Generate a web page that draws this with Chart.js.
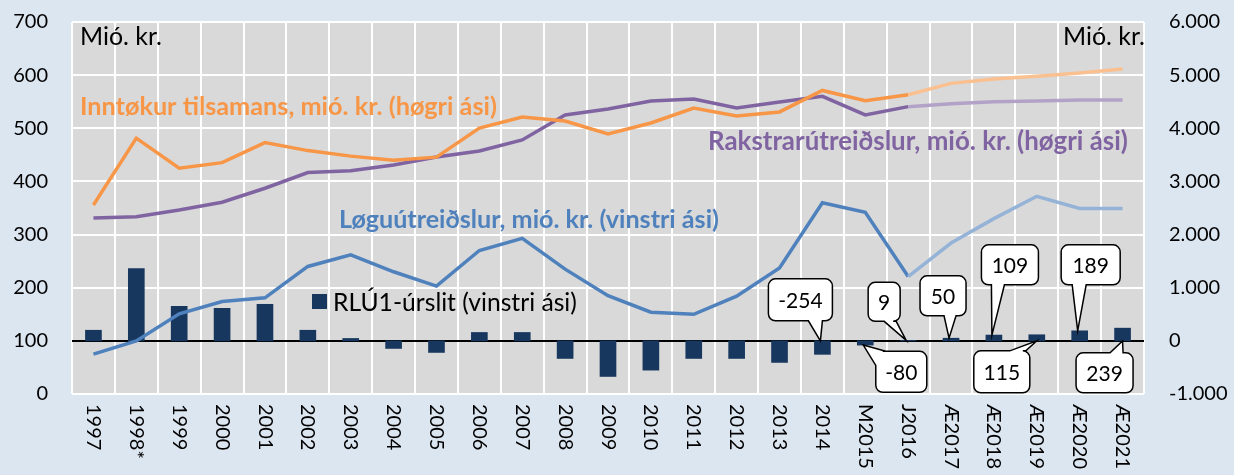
<!DOCTYPE html>
<html>
<head>
<meta charset="utf-8">
<script src="https://cdn.jsdelivr.net/npm/chart.js@4.4.1/dist/chart.umd.min.js"></script>
<style>
  html, body { margin: 0; padding: 0; background: #DCE6F1; }
  #wrap { width: 1234px; height: 475px; }
</style>
</head>
<body>
<div id="wrap"><canvas id="chart"></canvas></div>
<script>
// categories
const years = ['1997', '1998*', '1999', '2000', '2001', '2002', '2003', '2004', '2005', '2006',
  '2007', '2008', '2009', '2010', '2011', '2012', '2013', '2014', 'M2015', 'J2016',
  'Æ2017', 'Æ2018', 'Æ2019', 'Æ2020', 'Æ2021'];

// RLÚ1-úrslit (mió. kr.)
const rlu = [200, 1360, 650, 612, 688, 200, 45, -143, -218, 158,
  158, -331, -670, -551, -331, -331, -406, -254, -80, 9,
  50, 109, 115, 189, 239];

// Løguútreiðslur (vinstri ási)
const loguutreidslur = [75, 100, 151, 174, 181, 240, 262, 230, 203, 270,
  293, 235, 185, 154, 150, 184, 237, 360, 342, 221,
  284, 330, 372, 349, 349];

// Inntøkur tilsamans (høgri ási)
const inntokur = [2557, 3815, 3250, 3354, 3730, 3580, 3476, 3400, 3457, 4003,
  4213, 4137, 3893, 4100, 4382, 4232, 4308, 4712, 4518, 4630,
  4845, 4928, 4980, 5040, 5117];

// Rakstrarútreiðslur (høgri ási)
const rakstur = [2310, 2337, 2463, 2608, 2872, 3166, 3203, 3310, 3460, 3573,
  3780, 4250, 4362, 4513, 4552, 4382, 4495, 4602, 4251, 4407,
  4460, 4500, 4515, 4534, 4534];

const leftTicks = [0, 100, 200, 300, 400, 500, 600, 700];
const rightTicks = [-1000, 0, 1000, 2000, 3000, 4000, 5000, 6000];

const FORECAST_FROM = years.indexOf('J2016');
const FONT = '"Lato", "Open Sans", sans-serif';

function thousands(v) {
  return String(v).replace(/\B(?=(\d{3})+(?!\d))/g, '.');
}

function seg(dark, light) {
  return { borderColor: c => (c.p0DataIndex >= FORECAST_FROM ? light : dark) };
}

// fixed axis widths, no extra label padding above/below the plot
function fixWidth(w) {
  return s => {
    s.width = w;
    s.paddingTop = 0;
    s.paddingBottom = 0;
  };
}

// callout boxes for the last bars: offset of box centre from bar, box size, tail base
const callouts = [
  { i: 17, dx: -22, dy: -41, w: 64, h: 42, tail: 'bottom', t0: 40, t1: 54, tip: 'zero' },
  { i: 18, dx: 36, dy: 31, w: 51, h: 41, tail: 'topleft', tip: 'end' },
  { i: 19, dx: -24, dy: -39, w: 32, h: 39, tail: 'bottom', t0: 16, t1: 28, tip: 'end' },
  { i: 20, dx: -8, dy: -45, w: 46, h: 40, tail: 'bottom', t0: 24, t1: 36, tip: 'end' },
  { i: 21, dx: 16, dy: -76, w: 57, h: 40, tail: 'bottom', t0: 10, t1: 23, tip: 'end' },
  { i: 22, dx: -35, dy: 31, w: 56, h: 42, tail: 'top', t0: 36, t1: 52, tip: 'zero' },
  { i: 23, dx: 11, dy: -76, w: 59, h: 40, tail: 'bottom', t0: 11, t1: 25, tip: 'end' },
  { i: 24, dx: -18, dy: 32, w: 57, h: 40, tail: 'top', t0: 34, t1: 47, tip: 'zero' }
];

const texts = [
  { s: 'Mió. kr.', x: 80, y: 37, w: 82, c: '#000', b: false },
  { s: 'Mió. kr.', x: 1063, y: 37, w: 82, c: '#000', b: false },
  { s: 'Inntøkur tilsamans, mió. kr. (høgri ási)', x: 80, y: 107, w: 417, c: '#F79646', b: true },
  { s: 'Rakstrarútreiðslur, mió. kr. (høgri ási)', x: 708, y: 142, w: 420, c: '#8064A2', b: true },
  { s: 'Løguútreiðslur, mió. kr. (vinstri ási)', x: 339, y: 220, w: 380, c: '#4F81BD', b: true },
  { s: 'RLÚ1-úrslit (vinstri ási)', x: 333, y: 303, w: 244, c: '#000', b: false }
];

const decor = {
  id: 'decor',
  beforeDraw(chart) {
    const { ctx, chartArea: a } = chart;
    ctx.save();
    ctx.fillStyle = '#DCE6F1';
    ctx.fillRect(0, 0, chart.width, chart.height);
    ctx.fillStyle = '#D9D9D9';
    ctx.fillRect(a.left, a.top, a.right - a.left, a.bottom - a.top);
    ctx.restore();
  },
  afterDraw(chart) {
    const { ctx } = chart;
    const xs = chart.scales.x, y1 = chart.scales.y1;
    ctx.save();
    // x labels, rotated clockwise
    ctx.fillStyle = '#000';
    ctx.font = '20px ' + FONT;
    ctx.textAlign = 'left';
    ctx.textBaseline = 'middle';
    years.forEach((lab, i) => {
      ctx.save();
      ctx.translate(xs.getPixelForTick(i), 404);
      ctx.rotate(Math.PI / 2);
      ctx.fillText(lab, 0, 0);
      ctx.restore();
    });

    // free texts
    texts.forEach(t => {
      const weight = t.b ? 'bold ' : '';
      ctx.font = weight + '20px ' + FONT;
      const size = 20 * t.w / ctx.measureText(t.s).width;
      ctx.font = weight + size.toFixed(2) + 'px ' + FONT;
      ctx.fillStyle = t.c;
      ctx.textAlign = 'left';
      ctx.textBaseline = 'middle';
      ctx.fillText(t.s, t.x, t.y);
    });
    // legend square
    ctx.fillStyle = '#17375E';
    ctx.fillRect(312, 294, 15, 15);

    // callouts
    const zero = y1.getPixelForValue(0);
    ctx.lineWidth = 1.5;
    ctx.strokeStyle = '#000';
    callouts.forEach(co => {
      const bx = xs.getPixelForValue(co.i);
      const v = rlu[co.i];
      const tipY = co.tip === 'zero' ? zero : y1.getPixelForValue(v);
      const tipX = co.tip === 'zero' ? bx + (co.tail === 'top' ? 0 : -2) : bx - 2;
      const cx = bx + co.dx, cy = zero + co.dy;
      const L = cx - co.w / 2, T = cy - co.h / 2, R = L + co.w, B = T + co.h, r = 7;
      ctx.beginPath();
      ctx.moveTo(L + r, T);
      if (co.tail === 'top') {
        ctx.lineTo(L + co.t0, T); ctx.lineTo(tipX, tipY); ctx.lineTo(L + co.t1, T);
      }
      ctx.lineTo(R - r, T);
      ctx.arcTo(R, T, R, T + r, r);
      ctx.lineTo(R, B - r);
      ctx.arcTo(R, B, R - r, B, r);
      if (co.tail === 'bottom') {
        ctx.lineTo(L + co.t1, B); ctx.lineTo(tipX, tipY); ctx.lineTo(L + co.t0, B);
      }
      ctx.lineTo(L + r, B);
      ctx.arcTo(L, B, L, B - r, r);
      if (co.tail === 'topleft') {
        ctx.lineTo(L, T + 14); ctx.lineTo(tipX, tipY); ctx.lineTo(L + 10, T);
      } else {
        ctx.lineTo(L, T + r);
        ctx.arcTo(L, T, L + r, T, r);
      }
      ctx.closePath();
      ctx.fillStyle = '#fff';
      ctx.fill();
      ctx.stroke();
      ctx.fillStyle = '#000';
      ctx.font = '21px ' + FONT;
      ctx.textAlign = 'center';
      ctx.textBaseline = 'middle';
      ctx.fillText(String(v), cx, cy + 1);
    });
    ctx.restore();
  }
};

new Chart(document.getElementById('chart'), {
  type: 'bar',
  data: {
    labels: years,
    datasets: [
      {
        type: 'line', label: 'Inntøkur tilsamans', data: inntokur, yAxisID: 'y1',
        borderColor: '#F79646', borderWidth: 3.5, pointRadius: 0, order: 1,
        segment: seg('#F79646', '#FAC090')
      },
      {
        type: 'line', label: 'Rakstrarútreiðslur', data: rakstur, yAxisID: 'y1',
        borderColor: '#8064A2', borderWidth: 3.5, pointRadius: 0, order: 2,
        segment: seg('#8064A2', '#B3A2C7')
      },
      {
        type: 'line', label: 'Løguútreiðslur', data: loguutreidslur, yAxisID: 'y',
        borderColor: '#4F81BD', borderWidth: 3.5, pointRadius: 0, order: 3,
        segment: seg('#4F81BD', '#95B3D7')
      },
      {
        type: 'bar', label: 'RLÚ1-úrslit', data: rlu, yAxisID: 'y1',
        backgroundColor: '#17375E', barThickness: 16, order: 4
      }
    ]
  },
  options: {
    responsive: true,
    maintainAspectRatio: false,
    animation: false,
    layout: { padding: { top: 22, left: 0, right: 0, bottom: 0 } },
    plugins: { legend: { display: false }, tooltip: { enabled: false } },
    scales: {
      x: {
        offset: true,
        grid: { color: '#FFFFFF', lineWidth: 2, offset: true, drawTicks: false },
        border: { display: false },
        ticks: { display: false },
        afterFit: s => { s.height = 81; s.paddingLeft = 0; s.paddingRight = 0; }
      },
      y: {
        position: 'left', min: 0, max: 700,
        afterBuildTicks: s => { s.ticks = leftTicks.map(v => ({ value: v })); },
        grid: {
          drawTicks: false, lineWidth: 2,
          color: c => (c.tick && c.tick.value === 100 ? '#000000' : '#FFFFFF')
        },
        border: { display: false },
        ticks: { padding: 24, color: '#000', font: { family: FONT, size: 20 } },
        afterFit: fixWidth(72)
      },
      y1: {
        position: 'right', min: -1000, max: 6000,
        afterBuildTicks: s => { s.ticks = rightTicks.map(v => ({ value: v })); },
        grid: { display: false, drawTicks: false },
        border: { display: false },
        ticks: {
          padding: 25, color: '#000', font: { family: FONT, size: 20 },
          callback: v => thousands(v)
        },
        afterFit: fixWidth(90)
      }
    }
  },
  plugins: [decor]
});
</script>
</body>
</html>
